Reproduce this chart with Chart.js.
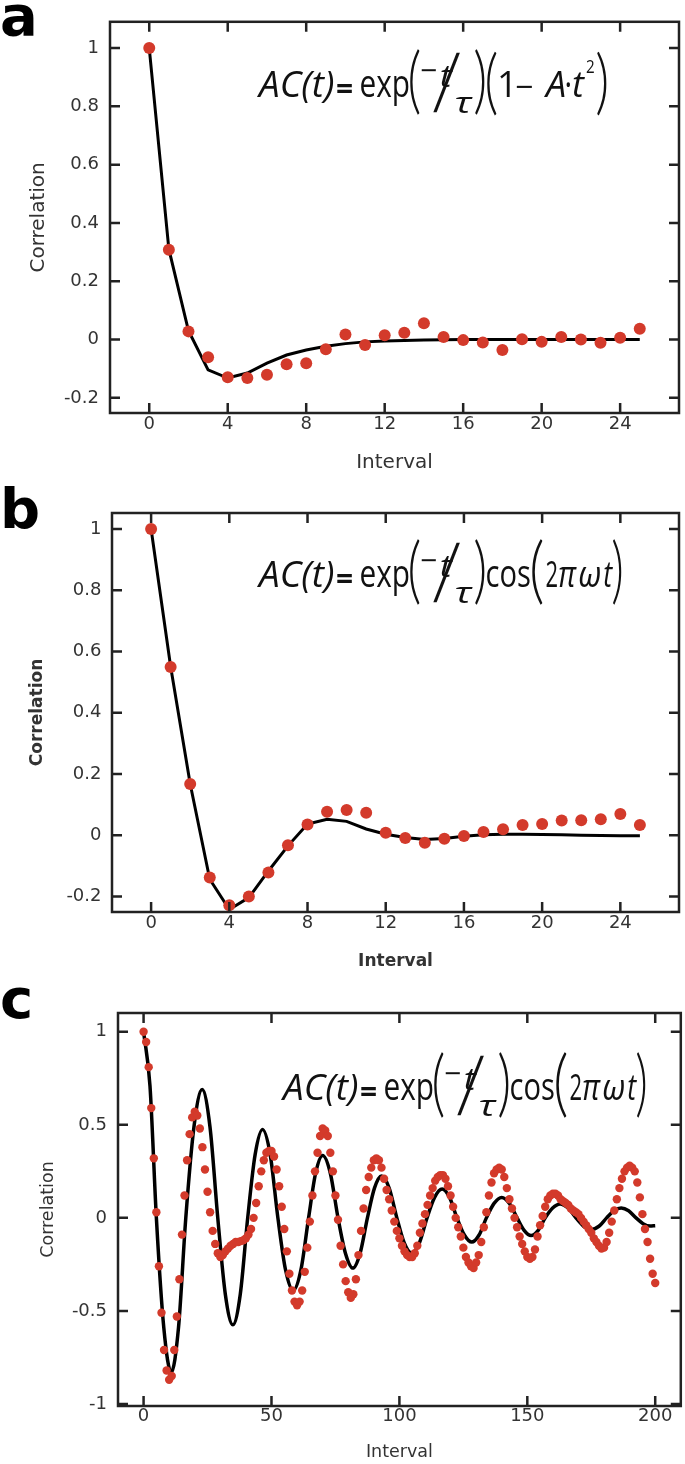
<!DOCTYPE html>
<html><head><meta charset="utf-8">
<script src="https://cdn.jsdelivr.net/npm/chart.js@4.4.0/dist/chart.umd.min.js"></script>
<style>
html,body{margin:0;padding:0;background:#fff;}
body{width:685px;height:1464px;position:relative;overflow:hidden;}
canvas{position:absolute;left:0;}
</style></head><body>
<canvas id="ca" width="685" height="480" style="top:0px"></canvas>
<canvas id="cb" width="685" height="500" style="top:480px"></canvas>
<canvas id="cc" width="685" height="484" style="top:980px"></canvas>
<script>
// ---------------- DATA ----------------
const intervalAB = [0,1,2,3,4,5,6,7,8,9,10,11,12,13,14,15,16,17,18,19,20,21,22,23,24,25];
const corrA = [1.0,0.308,0.028,-0.061,-0.129,-0.132,-0.121,-0.085,-0.081,-0.033,0.017,-0.019,0.015,0.023,0.056,0.009,-0.002,-0.010,-0.036,0.001,-0.008,0.009,0.000,-0.011,0.006,0.037];
const fitA  = [1.0,0.31,0.03,-0.104,-0.132,-0.115,-0.081,-0.053,-0.036,-0.023,-0.014,-0.008,-0.005,-0.003,-0.002,-0.001,0,0,0,0,0,0,0,0,0,0];
const corrB = [1.0,0.549,0.167,-0.138,-0.229,-0.200,-0.122,-0.033,0.035,0.076,0.082,0.073,0.008,-0.009,-0.025,-0.012,-0.003,0.010,0.019,0.033,0.036,0.048,0.049,0.052,0.069,0.033];
const fitB  = [1.0,0.55,0.167,-0.144,-0.243,-0.204,-0.117,-0.035,0.036,0.052,0.045,0.020,0.003,-0.008,-0.014,-0.011,-0.004,0.001,0.003,0.003,0.002,0.001,0.000,-0.001,-0.002,-0.002];

const intervalC = [0,1,2,3,4,5,6,7,8,9,10,11,12,13,14,15,16,17,18,19,20,21,22,23,24,25,26,27,28,29,30,31,32,33,34,35,36,37,38,39,40,41,42,43,44,45,46,47,48,49,50,51,52,53,54,55,56,57,58,59,60,61,62,63,64,65,66,67,68,69,70,71,72,73,74,75,76,77,78,79,80,81,82,83,84,85,86,87,88,89,90,91,92,93,94,95,96,97,98,99,100,101,102,103,104,105,106,107,108,109,110,111,112,113,114,115,116,117,118,119,120,121,122,123,124,125,126,127,128,129,130,131,132,133,134,135,136,137,138,139,140,141,142,143,144,145,146,147,148,149,150,151,152,153,154,155,156,157,158,159,160,161,162,163,164,165,166,167,168,169,170,171,172,173,174,175,176,177,178,179,180,181,182,183,184,185,186,187,188,189,190,191,192,193,194,195,196,197,198,199,200];
const corrC = [
1.00,0.945,0.81,0.59,0.32,0.03,-0.26,-0.51,-0.71,-0.82,
-0.87,-0.85,-0.71,-0.53,-0.33,-0.09,0.12,0.31,0.45,0.54,
0.57,0.55,0.48,0.38,0.26,0.14,0.03,-0.07,-0.14,-0.19,
-0.21,-0.20,-0.18,-0.165,-0.15,-0.14,-0.13,-0.13,-0.125,-0.12,
-0.11,-0.09,-0.06,0.00,0.08,0.17,0.25,0.31,0.35,0.36,
0.36,0.33,0.26,0.17,0.06,-0.06,-0.18,-0.30,-0.39,-0.45,
-0.47,-0.45,-0.39,-0.29,-0.16,-0.02,0.12,0.25,0.35,0.44,
0.48,0.47,0.44,0.35,0.25,0.12,-0.01,-0.15,-0.25,-0.34,
-0.40,-0.43,-0.41,-0.33,-0.20,-0.07,0.05,0.15,0.22,0.27,
0.31,0.32,0.31,0.27,0.21,0.15,0.10,0.04,-0.02,-0.07,
-0.11,-0.15,-0.18,-0.20,-0.21,-0.21,-0.19,-0.15,-0.08,-0.03,
0.02,0.07,0.12,0.16,0.20,0.22,0.23,0.23,0.21,0.17,
0.12,0.06,0.00,-0.05,-0.10,-0.16,-0.21,-0.24,-0.26,-0.27,
-0.24,-0.20,-0.13,-0.05,0.03,0.12,0.19,0.24,0.26,0.27,
0.26,0.22,0.16,0.10,0.05,0.00,-0.05,-0.10,-0.14,-0.18,
-0.21,-0.22,-0.21,-0.17,-0.10,-0.04,0.01,0.06,0.10,0.12,
0.13,0.13,0.12,0.10,0.09,0.08,0.07,0.05,0.04,0.03,
0.02,0.00,-0.02,-0.04,-0.06,-0.08,-0.11,-0.13,-0.15,-0.165,
-0.16,-0.13,-0.08,-0.02,0.04,0.10,0.16,0.21,0.25,0.27,
0.28,0.27,0.25,0.19,0.11,0.02,-0.06,-0.13,-0.22,-0.30,
-0.35];
const fitCX = [0,2.5,5.0,7.9,10.8,13.65,16.5,19.7,22.9,25.95,29,31.95,34.9,37.8,40.7,43.6,46.5,49.5,52.5,55.5,58.5,61.5,64.5,67.25,70,73,76,78.9,81.8,84.65,87.5,90.25,93,96,99,101.9,104.8,107.8,110.8,113.75,116.7,119.6,122.5,125.4,128.3,131.15,134,137,140,143,146,148.75,151.5,154.25,157,159.9,162.8,165.9,169,172,175,178,181,183.85,186.7,189.6,192.5,195.25,198,200];
const fitCY = [1.0,0.71,0,-0.59,-0.83,-0.59,0,0.49,0.69,0.49,0,-0.41,-0.575,-0.41,0,0.34,0.475,0.34,0,-0.28,-0.39,-0.28,0,0.24,0.335,0.24,0,-0.19,-0.27,-0.19,0,0.16,0.225,0.16,0,-0.135,-0.19,-0.135,0,0.11,0.155,0.11,0,-0.092,-0.13,-0.092,0,0.078,0.11,0.078,0,-0.067,-0.095,-0.067,0,0.053,0.075,0.053,0,-0.045,-0.063,-0.045,0,0.038,0.053,0.038,0,-0.031,-0.044,-0.042];

const xTicksAB = [0,4,8,12,16,20,24];
const xLabelsAB = ['0','4','8','12','16','20','24'];
const yTicksAB = [1,0.8,0.6,0.4,0.2,0,-0.2];
const yLabelsAB = ['1','0.8','0.6','0.4','0.2','0','-0.2'];
const xTicksC = [0,50,100,150,200];
const xLabelsC = ['0','50','100','150','200'];
const yTicksC = [1,0.5,0,-0.5,-1];
const yLabelsC = ['1','0.5','0','-0.5','-1'];

// ---------------- STYLE / DRAW ----------------
const RED = '#d33a2b';
const TXT = '#333';
const SANS = '"DejaVu Sans", sans-serif';
const EQF = '"Open Sans", "DejaVu Sans", sans-serif';
const PARF = '300 60px Lato, "Open Sans", sans-serif';

function fitText(ctx, s, font, x0, x1, base) {
  ctx.font = font;
  const m = ctx.measureText(s);
  const w = m.actualBoundingBoxLeft + m.actualBoundingBoxRight;
  ctx.save(); ctx.translate(x0, base); ctx.scale((x1 - x0) / w, 1);
  ctx.fillText(s, m.actualBoundingBoxLeft, 0); ctx.restore();
}
function fitBox(ctx, s, font, x0, x1, y0, y1) {
  ctx.font = font;
  const m = ctx.measureText(s);
  const w = m.actualBoundingBoxLeft + m.actualBoundingBoxRight;
  const h = m.actualBoundingBoxAscent + m.actualBoundingBoxDescent;
  ctx.save(); ctx.translate(x0, y0); ctx.scale((x1 - x0) / w, (y1 - y0) / h);
  ctx.fillText(s, m.actualBoundingBoxLeft, m.actualBoundingBoxAscent); ctx.restore();
}
// equation pieces, page coordinates of panel b
const eqCommon = [
  {s:'AC(t)', f:'italic 37px', x0:256, x1:334, b:587},
  {s:'=', f:'bold 30px', x0:337, x1:352, b:589},
  {s:'exp', f:'38px', x0:361, x1:409, b:587},
  {s:'(', f:PARF, raw:true, x0:410, x1:420, y0:540, y1:605},
  {s:'\u2212', f:'30px', x0:421, x1:436, b:571},
  {s:'t', f:'italic 31px', x0:441, x1:454, b:577},
  {s:'\u2571', f:'40px "DejaVu Sans", sans-serif', raw:true, x0:433, x1:460, y0:542, y1:603},
  {s:'\u03c4', f:'italic 29px', x0:456, x1:474, b:603},
  {s:')', f:PARF, raw:true, x0:475, x1:485, y0:540, y1:605}
];
const eqCos = [
  {s:'cos', f:'38px', x0:487, x1:530, b:587},
  {s:'(', f:PARF, raw:true, x0:532, x1:543, y0:540, y1:605},
  {s:'2', f:'36px', x0:546, x1:557, b:587},
  {s:'\u03c0', f:'italic 36px', x0:559, x1:577, b:587},
  {s:'\u03c9', f:'italic 36px', x0:579, x1:600, b:587},
  {s:'t', f:'italic 36px', x0:604, x1:613, b:587},
  {s:')', f:PARF, raw:true, x0:613, x1:622, y0:540, y1:605}
];
const eqPoly = [ // page coordinates of panel a
  {s:'(', f:PARF, raw:true, x0:487, x1:497, y0:52, y1:115},
  {s:'1', f:'36px', x0:500, x1:510, b:97},
  {s:'\u2212', f:'32px', x0:516, x1:532, b:98},
  {s:'A', f:'italic 36px', x0:543, x1:565, b:97},
  {s:'\u00b7', f:'36px', x0:566, x1:570, b:97},
  {s:'t', f:'italic 36px', x0:573, x1:585, b:97},
  {s:'2', f:'19px', x0:586, x1:594, b:73},
  {s:')', f:PARF, raw:true, x0:597, x1:607, y0:52, y1:115}
];
function drawEq(ctx, items, dx, dy) {
  ctx.save();
  ctx.fillStyle = '#111'; ctx.textAlign = 'left'; ctx.textBaseline = 'alphabetic';
  for (const it of items) {
    const font = it.raw ? it.f : it.f + ' ' + EQF;
    if (it.y0 !== undefined) fitBox(ctx, it.s, font, it.x0 + dx, it.x1 + dx, it.y0 + dy, it.y1 + dy);
    else fitText(ctx, it.s, font, it.x0 + dx, it.x1 + dx, it.b + dy);
  }
  ctx.restore();
}

const framePlugin = {
  id: 'frame',
  afterDraw(chart, args, o) {
    const {ctx, chartArea: a, scales: {x, y}} = chart;
    ctx.save();
    ctx.strokeStyle = '#222'; ctx.lineWidth = 2.5; ctx.lineCap = 'butt';
    ctx.strokeRect(a.left, a.top, a.right - a.left, a.bottom - a.top);
    const L = 10;
    ctx.beginPath();
    for (const t of x.ticks) {
      const px = x.getPixelForValue(t.value);
      ctx.moveTo(px, a.bottom); ctx.lineTo(px, a.bottom - L);
      ctx.moveTo(px, a.top); ctx.lineTo(px, a.top + L);
    }
    for (const t of y.ticks) {
      const py = y.getPixelForValue(t.value);
      ctx.moveTo(a.left, py); ctx.lineTo(a.left + L, py);
      ctx.moveTo(a.right, py); ctx.lineTo(a.right - L, py);
    }
    ctx.stroke();
    // panel letter
    ctx.fillStyle = '#000';
    ctx.font = 'bold 56px "DejaVu Sans", sans-serif';
    ctx.textAlign = 'left'; ctx.textBaseline = 'alphabetic';
    ctx.fillText(o.letter, 0, o.letterY);
    ctx.restore();
    o.eq(ctx);
  }
};

function makePanel(id, p) {
  const dots = p.dx.map((v, i) => ({x: v, y: p.dy[i]}));
  const line = p.lx.map((v, i) => ({x: v, y: p.ly[i]}));
  return new Chart(document.getElementById(id), {
    type: 'line',
    data: {datasets: [
      {data: dots, showLine: false, pointRadius: p.r, pointHoverRadius: p.r, pointBackgroundColor: RED, pointBorderColor: RED, pointBorderWidth: 0},
      {data: line, borderColor: '#000', borderWidth: p.lw, pointRadius: 0, tension: p.tension, cubicInterpolationMode: p.cubic, fill: false}
    ]},
    options: {
      responsive: false, animation: false, devicePixelRatio: 1,
      layout: {padding: {top: p.padTop, right: p.padRight, bottom: 0, left: 0}},
      plugins: {legend: {display: false}, tooltip: {enabled: false},
                frame: {letter: p.letter, letterY: p.letterY, eq: p.eq}},
      scales: {
        x: {type: 'linear', min: p.xmin, max: p.xmax,
            grid: {display: false, drawTicks: false}, border: {display: false},
            afterBuildTicks: s => { s.ticks = p.xt.map(v => ({value: v})); },
            afterFit: s => { s.height = p.xh; },
            ticks: {autoSkip: false, maxRotation: 0, padding: p.xpad, color: TXT,
                    font: {family: SANS, size: p.tickSize},
                    callback: v => p.xl[p.xt.indexOf(v)]},
            title: {display: true, text: 'Interval', color: TXT,
                    font: {family: SANS, size: p.titleSize, weight: p.titleWeight},
                    padding: {top: 0, bottom: p.xtitlePad}}},
        y: {type: 'linear', min: p.ymin, max: p.ymax,
            grid: {display: false, drawTicks: false}, border: {display: false},
            afterBuildTicks: s => { s.ticks = p.yt.map(v => ({value: v})); },
            afterFit: s => { s.width = p.yw; },
            ticks: {autoSkip: false, padding: p.ypad, color: TXT,
                    font: {family: SANS, size: p.tickSize},
                    callback: v => p.yl[p.yt.indexOf(v)]},
            title: {display: true, text: 'Correlation', color: TXT,
                    font: {family: SANS, size: p.titleSize, weight: p.titleWeight},
                    padding: {top: p.ytitlePad, bottom: 0}}}
      }
    },
    plugins: [framePlugin]
  });
}

makePanel('ca', {dx: intervalAB, dy: corrA, lx: intervalAB, ly: fitA, r: 6, lw: 3, tension: 0, cubic: 'default',
  xmin: -2, xmax: 27, ymin: -0.252, ymax: 1.09, xt: xTicksAB, xl: xLabelsAB, yt: yTicksAB, yl: yLabelsAB,
  padTop: 13, padRight: 4, xh: 67, yw: 110, xpad: 1, ypad: 11, tickSize: 18, titleSize: 20, titleWeight: 'normal',
  xtitlePad: 5, ytitlePad: 27, letter: 'a', letterY: 35,
  eq: ctx => { drawEq(ctx, eqCommon, 0, -490); drawEq(ctx, eqPoly, 0, 0); }});

makePanel('cb', {dx: intervalAB, dy: corrB, lx: intervalAB, ly: fitB, r: 6, lw: 3, tension: 0, cubic: 'default',
  xmin: -2, xmax: 27, ymin: -0.251, ymax: 1.052, xt: xTicksAB, xl: xLabelsAB, yt: yTicksAB, yl: yLabelsAB,
  padTop: 33, padRight: 1.5, xh: 68, yw: 112, xpad: 1, ypad: 10.5, tickSize: 18, titleSize: 17, titleWeight: 'bold',
  xtitlePad: 8, ytitlePad: 27, letter: 'b', letterY: 48,
  eq: ctx => { drawEq(ctx, eqCommon, 0, -480); drawEq(ctx, eqCos, 0, -480); }});

makePanel('cc', {dx: intervalC, dy: corrC, lx: fitCX, ly: fitCY, r: 4.2, lw: 3.5, tension: 0, cubic: 'monotone',
  xmin: -10, xmax: 210, ymin: -1.011, ymax: 1.101, xt: xTicksC, xl: xLabelsC, yt: yTicksC, yl: yLabelsC,
  padTop: 33, padRight: 4, xh: 58, yw: 118, xpad: 0, ypad: 11, tickSize: 18, titleSize: 17.5, titleWeight: 'normal',
  xtitlePad: 1, ytitlePad: 38, letter: 'c', letterY: 38,
  eq: ctx => { drawEq(ctx, eqCommon, 24, 513 - 980); drawEq(ctx, eqCos, 24, 513 - 980); }});
</script>
</body></html>
